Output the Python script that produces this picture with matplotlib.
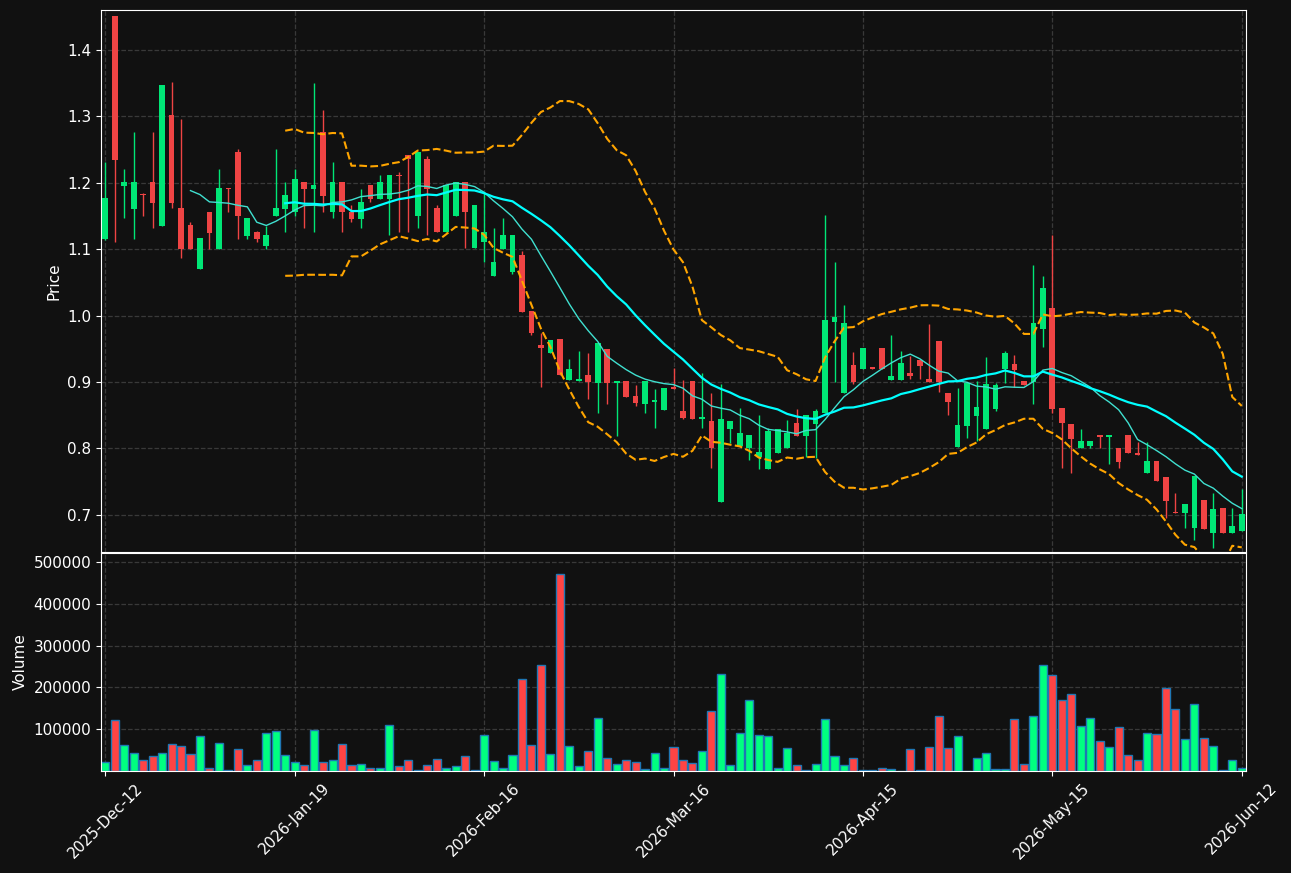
import numpy as np
import matplotlib
matplotlib.use("Agg")
import matplotlib.pyplot as plt

opens = [1.115,1.451,1.195,1.161,1.183,1.201,1.135,1.302,1.162,1.136,1.070,1.156,1.100,1.192,1.246,1.120,1.126,1.105,1.150,1.161,
 1.156,1.201,1.191,1.277,1.156,1.201,1.156,1.145,1.197,1.176,1.176,1.212,1.242,1.150,1.236,1.162,1.126,1.150,1.201,1.102,
 1.111,1.060,1.100,1.066,1.091,1.007,0.956,0.944,0.965,0.903,0.902,0.911,0.898,0.950,0.898,0.902,0.879,0.867,0.870,0.858,
 0.892,0.856,0.901,0.844,0.841,0.719,0.829,0.804,0.800,0.787,0.769,0.793,0.800,0.838,0.819,0.837,0.853,0.990,0.883,0.926,
 0.920,0.922,0.951,0.903,0.903,0.913,0.933,0.904,0.962,0.883,0.802,0.834,0.849,0.829,0.860,0.920,0.927,0.902,0.900,0.980,
 1.012,0.861,0.837,0.801,0.804,0.820,0.817,0.800,0.820,0.793,0.763,0.781,0.757,0.704,0.703,0.680,0.722,0.673,0.710,0.673,0.676]
highs = [1.231,1.451,1.221,1.277,1.184,1.277,1.347,1.352,1.296,1.141,1.117,1.156,1.221,1.192,1.251,1.147,1.128,1.135,1.251,1.201,
 1.221,1.201,1.350,1.310,1.231,1.201,1.166,1.191,1.197,1.211,1.211,1.216,1.242,1.246,1.240,1.166,1.197,1.201,1.201,1.167,
 1.186,1.132,1.147,1.121,1.097,1.007,0.974,0.963,0.965,0.935,0.947,0.944,0.959,0.950,0.902,0.902,0.896,0.902,0.889,0.891,
 0.921,0.903,0.901,0.914,0.883,0.897,0.841,0.861,0.820,0.850,0.831,0.829,0.843,0.859,0.850,0.859,1.151,1.081,1.016,0.945,
 0.951,0.922,0.951,0.971,0.947,0.939,0.933,0.987,0.962,0.883,0.891,0.899,0.902,0.938,0.899,0.947,0.940,0.902,1.076,1.060,
 1.121,0.861,0.837,0.829,0.811,0.820,0.820,0.800,0.820,0.810,0.810,0.781,0.757,0.733,0.716,0.758,0.722,0.733,0.710,0.710,0.739]
lows = [1.114,1.111,1.147,1.115,1.150,1.132,1.135,1.162,1.087,1.100,1.070,1.100,1.100,1.156,1.115,1.115,1.111,1.100,1.150,1.126,
 1.150,1.132,1.126,1.156,1.147,1.126,1.141,1.132,1.171,1.176,1.121,1.126,1.126,1.132,1.121,1.126,1.126,1.150,1.102,1.102,
 1.081,1.060,1.100,1.063,1.005,0.971,0.892,0.944,0.911,0.903,0.902,0.874,0.853,0.867,0.819,0.877,0.864,0.853,0.831,0.858,
 0.890,0.844,0.844,0.831,0.770,0.719,0.808,0.804,0.783,0.769,0.769,0.793,0.800,0.819,0.787,0.786,0.853,0.900,0.883,0.897,
 0.920,0.920,0.920,0.903,0.903,0.904,0.904,0.900,0.885,0.850,0.802,0.816,0.811,0.829,0.857,0.898,0.893,0.896,0.867,0.953,
 0.853,0.770,0.763,0.801,0.801,0.800,0.777,0.771,0.793,0.790,0.763,0.751,0.695,0.703,0.680,0.662,0.679,0.650,0.673,0.673,0.676]
closes = [1.177,1.234,1.201,1.201,1.181,1.170,1.347,1.170,1.100,1.100,1.117,1.124,1.192,1.190,1.150,1.147,1.115,1.121,1.162,1.182,
 1.206,1.191,1.197,1.180,1.201,1.156,1.145,1.171,1.176,1.201,1.211,1.210,1.236,1.246,1.191,1.126,1.197,1.201,1.156,1.167,
 1.126,1.081,1.121,1.121,1.005,0.974,0.951,0.963,0.911,0.920,0.905,0.900,0.959,0.898,0.902,0.877,0.868,0.902,0.873,0.891,
 0.890,0.846,0.844,0.847,0.800,0.844,0.841,0.823,0.820,0.795,0.826,0.829,0.823,0.819,0.850,0.856,0.993,0.998,0.989,0.900,
 0.951,0.921,0.920,0.909,0.929,0.909,0.924,0.900,0.900,0.870,0.835,0.899,0.862,0.897,0.896,0.944,0.918,0.896,0.989,1.042,
 0.860,0.838,0.814,0.811,0.811,0.817,0.820,0.780,0.793,0.790,0.781,0.751,0.721,0.703,0.716,0.758,0.679,0.709,0.673,0.683,0.701]
volumes = [20800,121600,61600,44000,25600,35200,44000,64000,59200,40000,83200,8000,66400,3200,52000,13600,27200,90400,95200,37600,
 20800,13600,97600,20800,25600,64000,13600,16000,8000,8000,109600,11200,25600,3200,13600,28000,8000,11200,35200,3200,
 85600,23200,8000,37600,220000,61600,253600,40000,472000,59200,11200,47200,126400,30400,16000,25600,20800,5600,42400,8000,
 56800,25600,18400,47200,143200,232000,13600,90400,169600,85600,83200,8000,54400,13600,3200,16000,124000,35200,13600,30400,
 3200,1600,6400,5600,500,52000,3200,56800,131200,54400,83200,500,30400,42400,5600,5600,124000,16000,131200,253600,
 229600,169600,184000,107200,126400,71200,56800,104800,37600,25600,90400,88000,198400,148000,76000,160000,78400,59200,1600,25600,8000]
tick_pos = [0, 20, 40, 60, 80, 100, 120]
tick_labels = ["2025-Dec-12", "2026-Jan-19", "2026-Feb-16", "2026-Mar-16", "2026-Apr-15", "2026-May-15", "2026-Jun-12"]

o = np.array(opens); h = np.array(highs); l = np.array(lows); c = np.array(closes); v = np.array(volumes)
x = np.arange(len(c))
up = c >= o
GREEN = "#00e676"; RED = "#ef4444"; BG = "#111111"

fig = plt.figure(figsize=(12.91, 8.73), dpi=100, facecolor=BG)
ax1 = fig.add_axes([101/1291, 1-552/873, 1145/1291, 542/873])
ax2 = fig.add_axes([101/1291, 1-771/873, 1145/1291, 218/873], sharex=ax1)
for ax in (ax1, ax2):
    ax.set_facecolor(BG)
    for s in ax.spines.values():
        s.set_color("white")
    ax.tick_params(colors="white", labelsize=11)
    ax.grid(True, color="#444444", linestyle="--", linewidth=0.9, alpha=0.8)
    ax.set_axisbelow(True)

cols = np.where(up, GREEN, RED)
ax1.vlines(x, l, h, colors=cols, linewidth=1, zorder=2)
ax1.bar(x, np.abs(c - o), bottom=np.minimum(o, c), width=0.6, color=cols, zorder=3)
ax1.bar(x, np.where(np.abs(c-o) < 0.002, 0.002, 0), bottom=np.minimum(o, c)-0.001, width=0.6, color=cols, zorder=3)

s = np.array(closes)
ma10 = np.full(len(s), np.nan); ma20 = np.full(len(s), np.nan); sd20 = np.full(len(s), np.nan)
for i in range(len(s)):
    if i >= 9: ma10[i] = s[i-9:i+1].mean()
    if i >= 19:
        ma20[i] = s[i-19:i+1].mean(); sd20[i] = s[i-19:i+1].std()
ax1.plot(x, ma10, color="#40e0d0", linewidth=1, zorder=4)
ax1.plot(x, ma20, color="#00ffff", linewidth=1.6, zorder=4)
ax1.plot(x, ma20 + 2*sd20, color="orange", linestyle="--", linewidth=1.5, zorder=4)
ax1.plot(x, ma20 - 2*sd20, color="orange", linestyle="--", linewidth=1.5, zorder=4)
ax1.set_ylim(0.644, 1.460)
ax1.set_ylabel("Price", color="white", fontsize=11)
ax1.tick_params(axis="x", labelbottom=False, length=0)

ax2.bar(x, v, width=0.85, color=np.where(up, "#00ff80", "#ff4444"), edgecolor="#1f77b4", linewidth=1)
ax2.set_ylim(0, 522000)
ax2.set_yticks([100000, 200000, 300000, 400000, 500000])
ax2.set_yticklabels(["100000", "200000", "300000", "400000", "500000"])
ax2.set_ylabel("Volume", color="white", fontsize=11)
ax2.set_xlim(-0.45, 120.45)
ax2.set_xticks(tick_pos)
ax2.set_xticklabels(tick_labels, rotation=45, ha="center")

fig.savefig("out.png", dpi=100, facecolor=BG)
